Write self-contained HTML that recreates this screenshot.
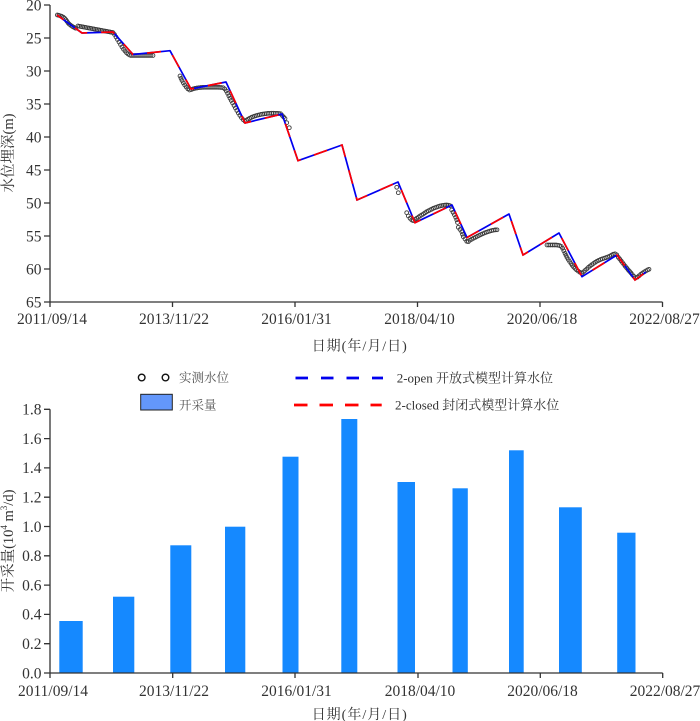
<!DOCTYPE html>
<html><head><meta charset="utf-8"><style>
html,body{margin:0;padding:0;background:#fff;}
svg{display:block;}
.t{font-family:"Liberation Serif","Noto Serif CJK SC",serif;fill:#333;}
</style></head><body>
<svg width="700" height="721" viewBox="0 0 700 721" xmlns="http://www.w3.org/2000/svg">
<rect width="700" height="721" fill="#fff"/>
<!-- ===== TOP CHART ===== -->
<g stroke="#333" stroke-width="1.3" fill="none">
<line x1="50" y1="5" x2="50" y2="302"/>
<line x1="50" y1="302" x2="662.5" y2="302"/>
<path d="M44 5H50M44 38H50M44 71H50M44 104H50M44 137H50M44 170H50M44 203H50M44 236H50M44 269H50M44 302H50"/>
<path d="M50 302V307M172.5 302V307M295 302V307M417.5 302V307M540 302V307M662.5 302V307"/>
</g>
<g class="t" font-size="15.5" text-anchor="end">
<text x="41.5" y="10.3">20</text><text x="41.5" y="43.3">25</text><text x="41.5" y="76.3">30</text>
<text x="41.5" y="109.3">35</text><text x="41.5" y="142.3">40</text><text x="41.5" y="175.3">45</text>
<text x="41.5" y="208.3">50</text><text x="41.5" y="241.3">55</text><text x="41.5" y="274.3">60</text>
<text x="41.5" y="307.3">65</text>
</g>
<g class="t" font-size="15.5" text-anchor="middle">
<text x="52" y="324">2011/09/14</text><text x="174" y="324">2013/11/22</text>
<text x="296.5" y="324">2016/01/31</text><text x="419.5" y="324">2018/04/10</text>
<text x="542" y="324">2020/06/18</text><text x="664.5" y="324">2022/08/27</text>
</g>
<text class="t" x="311.7" y="350.5" font-size="14" letter-spacing="1">日期(年/月/日)</text>
<text class="t" font-size="14.5" text-anchor="middle" dominant-baseline="central" transform="translate(9,153) rotate(-90)">水位埋深(m)</text>

<!-- observed circles -->
<g fill="none" stroke="#3a3a3a" stroke-width="0.9">
<circle cx="57.3" cy="15" r="1.9"/><circle cx="58.8" cy="15.3" r="1.9"/><circle cx="60.3" cy="15.8" r="1.9"/><circle cx="61.8" cy="16.4" r="1.9"/><circle cx="63.3" cy="17.2" r="1.9"/><circle cx="64.6" cy="18.3" r="1.9"/><circle cx="65.8" cy="19.7" r="1.9"/><circle cx="66.9" cy="21.2" r="1.9"/><circle cx="68" cy="22.8" r="1.9"/><circle cx="69.3" cy="24.2" r="1.9"/><circle cx="70.8" cy="25.4" r="1.9"/><circle cx="72.4" cy="26.5" r="1.9"/><circle cx="74" cy="27.4" r="1.9"/><circle cx="75.6" cy="28.2" r="1.9"/>
<circle cx="78" cy="26" r="1.9"/><circle cx="79.6" cy="26.3" r="1.9"/><circle cx="81.2" cy="26.6" r="1.9"/><circle cx="82.8" cy="26.9" r="1.9"/><circle cx="84.4" cy="27.2" r="1.9"/><circle cx="86" cy="27.5" r="1.9"/><circle cx="87.6" cy="27.8" r="1.9"/><circle cx="89.2" cy="28.1" r="1.9"/><circle cx="90.8" cy="28.4" r="1.9"/><circle cx="92.4" cy="28.7" r="1.9"/><circle cx="94" cy="29" r="1.9"/><circle cx="95.6" cy="29.3" r="1.9"/><circle cx="97.2" cy="29.6" r="1.9"/><circle cx="98.8" cy="29.9" r="1.9"/><circle cx="100.4" cy="30.2" r="1.9"/><circle cx="102" cy="30.5" r="1.9"/><circle cx="103.6" cy="30.8" r="1.9"/><circle cx="105.2" cy="31.1" r="1.9"/><circle cx="106.8" cy="31.4" r="1.9"/><circle cx="108.4" cy="31.7" r="1.9"/><circle cx="110" cy="32" r="1.9"/><circle cx="111.6" cy="32.3" r="1.9"/><circle cx="113" cy="32.6" r="1.9"/>
<circle cx="114.5" cy="34.5" r="1.9"/><circle cx="116" cy="37" r="1.9"/><circle cx="117.5" cy="39.5" r="1.9"/><circle cx="119" cy="42" r="1.9"/><circle cx="120.5" cy="44.5" r="1.9"/><circle cx="122" cy="47" r="1.9"/><circle cx="123.5" cy="49.2" r="1.9"/><circle cx="125" cy="51" r="1.9"/><circle cx="126.5" cy="52.7" r="1.9"/><circle cx="128" cy="54" r="1.9"/><circle cx="129.5" cy="55" r="1.9"/>
<circle cx="131" cy="55.5" r="1.9"/><circle cx="133" cy="55.5" r="1.9"/><circle cx="135" cy="55.5" r="1.9"/><circle cx="137" cy="55.5" r="1.9"/><circle cx="139" cy="55.5" r="1.9"/><circle cx="141" cy="55.5" r="1.9"/><circle cx="143" cy="55.5" r="1.9"/><circle cx="145" cy="55.5" r="1.9"/><circle cx="147" cy="55.5" r="1.9"/><circle cx="149" cy="55.5" r="1.9"/><circle cx="151" cy="55.5" r="1.9"/><circle cx="153" cy="55.5" r="1.9"/>
<circle cx="180" cy="76" r="1.9"/><circle cx="181" cy="78.3" r="1.9"/><circle cx="182" cy="80.5" r="1.9"/><circle cx="183.3" cy="82.8" r="1.9"/><circle cx="184.7" cy="85" r="1.9"/><circle cx="186.2" cy="87" r="1.9"/><circle cx="187.8" cy="88.8" r="1.9"/><circle cx="189.5" cy="90" r="1.9"/>
<circle cx="191.5" cy="89.5" r="1.9"/><circle cx="193.3" cy="88.8" r="1.9"/><circle cx="195.1" cy="88.3" r="1.9"/><circle cx="197" cy="88" r="1.9"/><circle cx="199" cy="87.7" r="1.9"/><circle cx="201" cy="87.5" r="1.9"/><circle cx="203" cy="87.4" r="1.9"/><circle cx="205" cy="87.3" r="1.9"/><circle cx="207" cy="87.3" r="1.9"/><circle cx="209" cy="87.3" r="1.9"/><circle cx="211" cy="87.3" r="1.9"/><circle cx="213" cy="87.3" r="1.9"/><circle cx="215" cy="87.3" r="1.9"/><circle cx="217" cy="87.3" r="1.9"/><circle cx="219" cy="87.4" r="1.9"/><circle cx="221" cy="87.5" r="1.9"/><circle cx="223" cy="87.7" r="1.9"/>
<circle cx="224.8" cy="89" r="1.9"/><circle cx="226.3" cy="91" r="1.9"/><circle cx="227.6" cy="93.4" r="1.9"/><circle cx="228.8" cy="95.8" r="1.9"/><circle cx="230" cy="98.2" r="1.9"/><circle cx="231.2" cy="100.5" r="1.9"/><circle cx="232.6" cy="103" r="1.9"/><circle cx="234" cy="105.5" r="1.9"/><circle cx="235.4" cy="108" r="1.9"/><circle cx="236.8" cy="110.5" r="1.9"/><circle cx="238.3" cy="113" r="1.9"/><circle cx="239.8" cy="115.4" r="1.9"/><circle cx="241.4" cy="117.6" r="1.9"/><circle cx="243.1" cy="119.6" r="1.9"/><circle cx="245" cy="121.2" r="1.9"/>
<circle cx="246.5" cy="120.2" r="1.9"/><circle cx="248" cy="119.2" r="1.9"/><circle cx="249.6" cy="118.3" r="1.9"/><circle cx="251.2" cy="117.5" r="1.9"/><circle cx="252.8" cy="116.8" r="1.9"/><circle cx="254.4" cy="116.2" r="1.9"/><circle cx="256" cy="115.7" r="1.9"/><circle cx="257.7" cy="115.2" r="1.9"/><circle cx="259.4" cy="114.8" r="1.9"/><circle cx="261.1" cy="114.4" r="1.9"/><circle cx="262.8" cy="114.1" r="1.9"/><circle cx="264.5" cy="113.8" r="1.9"/><circle cx="266.2" cy="113.6" r="1.9"/><circle cx="268" cy="113.4" r="1.9"/><circle cx="269.8" cy="113.3" r="1.9"/><circle cx="271.6" cy="113.2" r="1.9"/><circle cx="273.4" cy="113.2" r="1.9"/><circle cx="275.2" cy="113.3" r="1.9"/><circle cx="277" cy="113.4" r="1.9"/><circle cx="278.8" cy="113.5" r="1.9"/><circle cx="280.5" cy="113.7" r="1.9"/>
<circle cx="282.2" cy="115.5" r="1.9"/><circle cx="283.6" cy="117" r="1.9"/><circle cx="285" cy="118.5" r="1.9"/><circle cx="286.7" cy="122.7" r="1.9"/><circle cx="289.3" cy="127.7" r="1.9"/>
<circle cx="396.7" cy="187.3" r="1.9"/><circle cx="398.3" cy="192.7" r="1.9"/>
<circle cx="406.7" cy="212.7" r="1.9"/><circle cx="408.3" cy="216" r="1.9"/><circle cx="410" cy="218.3" r="1.9"/><circle cx="411.7" cy="220" r="1.9"/><circle cx="413.3" cy="220.7" r="1.9"/>
<circle cx="415" cy="219.5" r="1.9"/><circle cx="416.7" cy="218.3" r="1.9"/><circle cx="418.4" cy="217.1" r="1.9"/><circle cx="420" cy="216" r="1.9"/><circle cx="421.7" cy="215" r="1.9"/><circle cx="423.4" cy="214" r="1.9"/><circle cx="425" cy="212.8" r="1.9"/><circle cx="426.7" cy="211.7" r="1.9"/><circle cx="428.4" cy="210.8" r="1.9"/><circle cx="430" cy="210" r="1.9"/><circle cx="431.7" cy="209.2" r="1.9"/><circle cx="433.3" cy="208.3" r="1.9"/><circle cx="435" cy="207.7" r="1.9"/><circle cx="436.7" cy="207.1" r="1.9"/><circle cx="438.4" cy="206.5" r="1.9"/><circle cx="440" cy="206" r="1.9"/><circle cx="441.7" cy="205.6" r="1.9"/><circle cx="443.4" cy="205.3" r="1.9"/><circle cx="445" cy="205.1" r="1.9"/><circle cx="446.7" cy="205" r="1.9"/><circle cx="448.4" cy="205.2" r="1.9"/><circle cx="450" cy="205.7" r="1.9"/>
<circle cx="451.7" cy="210" r="1.9"/><circle cx="453" cy="212.3" r="1.9"/><circle cx="454.4" cy="214.7" r="1.9"/><circle cx="455.7" cy="217.3" r="1.9"/><circle cx="456.7" cy="219.8" r="1.9"/><circle cx="457.5" cy="222.5" r="1.9"/><circle cx="458.3" cy="227.3" r="1.9"/><circle cx="460" cy="229.5" r="1.9"/><circle cx="461.7" cy="231.7" r="1.9"/><circle cx="462.5" cy="234.2" r="1.9"/><circle cx="463.3" cy="236.7" r="1.9"/><circle cx="465" cy="239" r="1.9"/><circle cx="466.7" cy="241.3" r="1.9"/><circle cx="468.3" cy="241.7" r="1.9"/>
<circle cx="470" cy="240.2" r="1.9"/><circle cx="471.8" cy="239.2" r="1.9"/><circle cx="473.6" cy="238.2" r="1.9"/><circle cx="475.4" cy="237.3" r="1.9"/><circle cx="477.2" cy="236.4" r="1.9"/><circle cx="479" cy="235.5" r="1.9"/><circle cx="480.8" cy="234.6" r="1.9"/><circle cx="482.6" cy="233.8" r="1.9"/><circle cx="484.4" cy="233" r="1.9"/><circle cx="486.2" cy="232.3" r="1.9"/><circle cx="488" cy="231.7" r="1.9"/><circle cx="489.8" cy="231.1" r="1.9"/><circle cx="491.6" cy="230.6" r="1.9"/><circle cx="493.4" cy="230.2" r="1.9"/><circle cx="495.2" cy="229.9" r="1.9"/><circle cx="497" cy="229.8" r="1.9"/>
<circle cx="547" cy="245" r="1.9"/><circle cx="548.8" cy="245" r="1.9"/><circle cx="550.6" cy="245" r="1.9"/><circle cx="552.4" cy="245" r="1.9"/><circle cx="554.2" cy="245" r="1.9"/><circle cx="556" cy="245" r="1.9"/><circle cx="557.8" cy="245.2" r="1.9"/><circle cx="559.6" cy="245.6" r="1.9"/><circle cx="561.3" cy="246.5" r="1.9"/>
<circle cx="562.6" cy="248.3" r="1.9"/><circle cx="563.8" cy="250.8" r="1.9"/><circle cx="565" cy="253.3" r="1.9"/><circle cx="566" cy="255.4" r="1.9"/><circle cx="567" cy="257.5" r="1.9"/><circle cx="568.3" cy="259.5" r="1.9"/><circle cx="569.6" cy="261.5" r="1.9"/><circle cx="571" cy="263.5" r="1.9"/><circle cx="572.3" cy="265.3" r="1.9"/><circle cx="573.6" cy="267" r="1.9"/><circle cx="575" cy="268.4" r="1.9"/><circle cx="576.5" cy="269.8" r="1.9"/><circle cx="578.2" cy="271.1" r="1.9"/><circle cx="580" cy="272.3" r="1.9"/><circle cx="581.7" cy="273.3" r="1.9"/>
<circle cx="583.4" cy="272" r="1.9"/><circle cx="585" cy="270.5" r="1.9"/><circle cx="586.7" cy="269" r="1.9"/><circle cx="588.4" cy="267.4" r="1.9"/><circle cx="590.1" cy="266" r="1.9"/><circle cx="591.8" cy="264.7" r="1.9"/><circle cx="593.5" cy="263.5" r="1.9"/><circle cx="595.2" cy="262.3" r="1.9"/><circle cx="597" cy="261.2" r="1.9"/><circle cx="598.8" cy="260.3" r="1.9"/><circle cx="600.6" cy="259.5" r="1.9"/><circle cx="602.4" cy="258.8" r="1.9"/><circle cx="604.2" cy="258.2" r="1.9"/><circle cx="606" cy="257.6" r="1.9"/><circle cx="607.8" cy="257" r="1.9"/><circle cx="609.6" cy="256.2" r="1.9"/><circle cx="611.4" cy="255.2" r="1.9"/><circle cx="613.2" cy="254.2" r="1.9"/><circle cx="615" cy="253.8" r="1.9"/><circle cx="616.7" cy="254.8" r="1.9"/>
<circle cx="618.3" cy="257.3" r="1.9"/><circle cx="619.7" cy="259" r="1.9"/><circle cx="621.1" cy="260.8" r="1.9"/><circle cx="622.5" cy="262.6" r="1.9"/><circle cx="623.9" cy="264.5" r="1.9"/><circle cx="625.3" cy="266.3" r="1.9"/><circle cx="626.7" cy="268" r="1.9"/><circle cx="628.1" cy="269.7" r="1.9"/><circle cx="629.5" cy="271.3" r="1.9"/><circle cx="630.9" cy="272.9" r="1.9"/><circle cx="632.3" cy="274.6" r="1.9"/><circle cx="633.8" cy="276.3" r="1.9"/><circle cx="635.5" cy="278" r="1.9"/>
<circle cx="637.3" cy="277.2" r="1.9"/><circle cx="639" cy="275.8" r="1.9"/><circle cx="640.7" cy="274.4" r="1.9"/><circle cx="642.4" cy="273.1" r="1.9"/><circle cx="644.1" cy="272" r="1.9"/><circle cx="645.8" cy="271" r="1.9"/><circle cx="647.5" cy="270" r="1.9"/><circle cx="649" cy="269.3" r="1.9"/>
</g>

<!-- model lines -->
<polyline fill="none" stroke="#0000f0" stroke-width="1.7" stroke-linejoin="round" points="57,15 82,33 113,32 133,54.5 170,50.7 191,89 226,82 245,123 282,114 298,160.7 342,145 357,200 398,182 415,222.7 452,205 467,237.5 509,214 523,255 559,233 582,276.7 617,255 635,280 646,272"/>
<polyline fill="none" stroke="#ff0000" stroke-width="1.7" stroke-dasharray="14 14" stroke-dashoffset="6" points="57,15 82,33 113,32 133,54.5 170,50.7 191,89 226,82 245,123 282,114 298,160.7 342,145 357,200 398,182 415,222.7 452,205 467,237.5 509,214 523,255 559,233 582,276.7 617,255 635,280 646,272"/>

<!-- ===== LEGEND ===== -->
<circle cx="141.7" cy="377.5" r="3.3" fill="none" stroke="#111" stroke-width="1.4"/>
<circle cx="165.5" cy="377.5" r="3.3" fill="none" stroke="#111" stroke-width="1.4"/>
<text class="t" x="179" y="382" font-size="12.5" fill="#555" style="fill:#555">实测水位</text>
<rect x="140.7" y="394.3" width="31.6" height="15.7" fill="#6397fb" stroke="#222" stroke-width="1"/>
<text class="t" x="179" y="409.5" font-size="12.5" style="fill:#555">开采量</text>
<line x1="295.5" y1="378" x2="383" y2="378" stroke="#0000ee" stroke-width="2.8" stroke-dasharray="12.5 13"/>
<line x1="294" y1="405" x2="381.7" y2="405" stroke="#ff0000" stroke-width="2.8" stroke-dasharray="13.5 12"/>
<text class="t" x="396.7" y="382.5" font-size="13">2-open 开放式模型计算水位</text>
<text class="t" x="395" y="409.5" font-size="13">2-closed 封闭式模型计算水位</text>

<!-- ===== BOTTOM CHART ===== -->
<g fill="#1589ff">
<rect x="59.3" y="621" width="23.4" height="52"/>
<rect x="113" y="596.7" width="21.3" height="76.3"/>
<rect x="170.3" y="545.3" width="21" height="127.7"/>
<rect x="225" y="526.7" width="20.3" height="146.3"/>
<rect x="282.5" y="456.7" width="16" height="216.3"/>
<rect x="341.3" y="419" width="16" height="254"/>
<rect x="397.5" y="482" width="17.5" height="191"/>
<rect x="452.5" y="488.3" width="15.3" height="184.7"/>
<rect x="509" y="450.3" width="14.7" height="222.7"/>
<rect x="559" y="507.3" width="22.8" height="165.7"/>
<rect x="617.2" y="532.7" width="18.3" height="140.3"/>
</g>
<g stroke="#333" stroke-width="1.3" fill="none">
<line x1="50" y1="409.3" x2="50" y2="673"/>
<line x1="50" y1="673" x2="662.7" y2="673"/>
<path d="M44 409.3H50M44 438.6H50M44 467.9H50M44 497.2H50M44 526.5H50M44 555.8H50M44 585.1H50M44 614.4H50M44 643.7H50M44 673H50"/>
<path d="M50 673V678M172.7 673V678M295 673V678M418 673V678M540.3 673V678M662.7 673V678"/>
</g>
<g class="t" font-size="15.5" text-anchor="end">
<text x="41.5" y="414.6">1.8</text><text x="41.5" y="443.9">1.6</text><text x="41.5" y="473.2">1.4</text>
<text x="41.5" y="502.5">1.2</text><text x="41.5" y="531.8">1.0</text><text x="41.5" y="561.1">0.8</text>
<text x="41.5" y="590.4">0.6</text><text x="41.5" y="619.7">0.4</text><text x="41.5" y="649">0.2</text>
<text x="41.5" y="678.3">0.0</text>
</g>
<g class="t" font-size="15.5" text-anchor="middle">
<text x="53" y="696">2011/09/14</text><text x="174" y="696">2013/11/22</text>
<text x="296.5" y="696">2016/01/31</text><text x="420" y="696">2018/04/10</text>
<text x="542.5" y="696">2020/06/18</text><text x="665" y="696">2022/08/27</text>
</g>
<text class="t" x="311.7" y="719" font-size="14" letter-spacing="1">日期(年/月/日)</text>
<text class="t" font-size="14.5" text-anchor="middle" dominant-baseline="central" transform="translate(9,541) rotate(-90)">开采量(10<tspan font-size="9" baseline-shift="super">4</tspan> m<tspan font-size="9" baseline-shift="super">3</tspan>/d)</text>
</svg>
</body></html>
